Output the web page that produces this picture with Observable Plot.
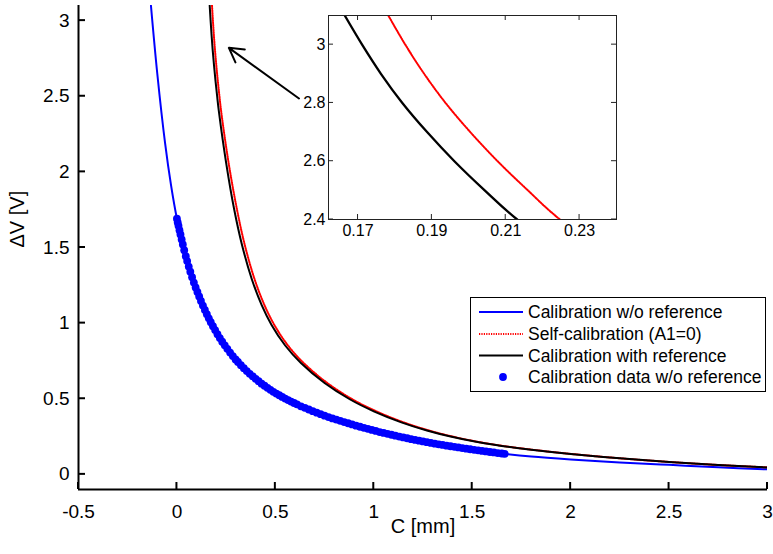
<!DOCTYPE html>
<html><head><meta charset="utf-8">
<script src="https://cdn.jsdelivr.net/npm/d3@7"></script>
<script src="https://cdn.jsdelivr.net/npm/@observablehq/plot@0.6"></script>
<style>
body{margin:0;background:#fff;}
#wrap{position:relative;width:773px;height:554px;font-family:Arial,"Liberation Sans",sans-serif;}
#inset{position:absolute;left:288px;top:10px;}
#legend{position:absolute;left:470px;top:297px;}
</style></head><body><div id="wrap"><div id="main"></div><div id="inset"></div><div id="legend"></div></div>
<script>
// ---- data ----
const blueX = [-0.132, -0.1, -0.06, -0.03, 0, 0.04, 0.087, 0.13, 0.173, 0.23, 0.29, 0.36, 0.427, 0.5, 0.63, 0.75, 0.885, 1.0, 1.14, 1.27, 1.39, 1.52, 1.66, 1.8, 2.0, 2.25, 2.5, 2.75, 3.0];
const blueY = [3.1, 2.652, 2.188, 1.912, 1.69, 1.464, 1.264, 1.122, 1.004, 0.877, 0.772, 0.676, 0.603, 0.538, 0.45, 0.388, 0.332, 0.29, 0.246, 0.211, 0.184, 0.159, 0.136, 0.118, 0.099, 0.079, 0.063, 0.047, 0.033];

const blackX = [0.1664, 0.1711, 0.1762, 0.1820, 0.1887, 0.1961, 0.2043, 0.2131, 0.25, 0.29, 0.33, 0.38, 0.43, 0.48, 0.55, 0.63, 0.75, 0.88, 1.0, 1.14, 1.27, 1.39, 1.52, 1.65, 1.8, 2.0, 2.25, 2.5, 2.75, 3.0];
const blackY = [3.1, 3.0, 2.9, 2.8, 2.7, 2.6, 2.5, 2.4, 2.06, 1.758, 1.52, 1.292, 1.121, 0.99, 0.852, 0.736, 0.604, 0.495, 0.417, 0.344, 0.29, 0.25, 0.215, 0.188, 0.163, 0.135, 0.106, 0.082, 0.062, 0.046];

const redX = [0.1782, 0.1828, 0.1879, 0.1937, 0.2004, 0.2078, 0.2160, 0.2247, 0.2625, 0.304, 0.344, 0.394, 0.444, 0.494, 0.564, 0.644, 0.764, 0.893, 1.012, 1.151, 1.28, 1.399, 1.528, 1.656, 1.805, 2.004, 2.253, 2.502, 2.751, 3.0];
const redY = [3.1, 3.0, 2.9, 2.8, 2.7, 2.6, 2.5, 2.4, 2.06, 1.758, 1.52, 1.292, 1.121, 0.99, 0.852, 0.736, 0.604, 0.495, 0.417, 0.344, 0.29, 0.25, 0.215, 0.188, 0.163, 0.135, 0.106, 0.082, 0.062, 0.0462];

const dataX = [0, 0.004, 0.008, 0.013, 0.018, 0.024, 0.03, 0.037, 0.045, 0.052, 0.06, 0.068, 0.077, 0.086, 0.095, 0.104, 0.113, 0.122, 0.132, 0.142, 0.152, 0.162, 0.172, 0.183, 0.194, 0.206, 0.218, 0.23, 0.243, 0.256, 0.27, 0.284, 0.298,
  0.31, 0.325, 0.34, 0.355, 0.37, 0.385, 0.40, 0.415, 0.43, 0.445, 0.46, 0.475, 0.49, 0.505, 0.52, 0.535, 0.55, 0.565, 0.58, 0.595, 0.61, 0.63, 0.65, 0.67, 0.69, 0.71, 0.73, 0.75, 0.77, 0.79, 0.81, 0.83, 0.85, 0.87, 0.89, 0.91, 0.93, 0.95, 0.97, 0.99,
  1.01, 1.03, 1.05, 1.07, 1.09, 1.11, 1.13, 1.15, 1.17, 1.19, 1.21, 1.23, 1.25, 1.27, 1.29, 1.31, 1.33, 1.35, 1.37, 1.39, 1.41, 1.43, 1.45, 1.47, 1.49, 1.51, 1.53, 1.55, 1.57, 1.59, 1.61, 1.63, 1.65, 1.665];
const dataY = [1.69, 1.666, 1.643, 1.614, 1.586, 1.553, 1.52, 1.482, 1.442, 1.41, 1.374, 1.34, 1.304, 1.268, 1.236, 1.206, 1.176, 1.147, 1.116, 1.087, 1.059, 1.032, 1.006, 0.98, 0.954, 0.927, 0.901, 0.877, 0.853, 0.83, 0.805, 0.782, 0.76,
  0.743, 0.722, 0.702, 0.683, 0.665, 0.648, 0.632, 0.616, 0.60, 0.586, 0.572, 0.559, 0.546, 0.534, 0.523, 0.512, 0.501, 0.491, 0.481, 0.472, 0.463, 0.45, 0.44, 0.429, 0.418, 0.408, 0.398, 0.388, 0.379, 0.37, 0.362, 0.354, 0.346, 0.338, 0.33, 0.322, 0.315, 0.308, 0.301, 0.294,
  0.287, 0.28, 0.274, 0.268, 0.262, 0.256, 0.25, 0.244, 0.239, 0.233, 0.228, 0.223, 0.218, 0.213, 0.208, 0.203, 0.199, 0.195, 0.19, 0.186, 0.182, 0.178, 0.174, 0.17, 0.166, 0.162, 0.159, 0.155, 0.152, 0.148, 0.145, 0.141, 0.138, 0.136];

const xTicks = [-0.5, 0, 0.5, 1, 1.5, 2, 2.5, 3];
const yTicks = [0, 0.5, 1, 1.5, 2, 2.5, 3];
const insetXTicks = [0.17, 0.19, 0.21, 0.23];
const insetYTicks = [2.4, 2.6, 2.8, 3];
const xLabel = "C [mm]";
const yLabel = "ΔV [V]";
const legendLabels = ["Calibration w/o reference", "Self-calibration (A1=0)", "Calibration with reference", "Calibration data w/o reference"];
const arrowAnnot = [{x1: 0.62, y1: 2.485, x2: 0.264, y2: 2.82}];

// ---- tables ----
const zip = (xs, ys) => xs.map((x, i) => ({x, y: ys[i]}));
const blue = zip(blueX, blueY), black = zip(blackX, blackY), red = zip(redX, redY), pts = zip(dataX, dataY);

const BLUE = "#0000ff", RED = "#ff0000";
const DOTTED = "1.2,1.2";
const fmt = d => String(d);
const FONT = "Arial, 'Liberation Sans', sans-serif";

const main = Plot.plot({
  width: 773, height: 554,
  marginLeft: 78, marginRight: 6, marginTop: 5, marginBottom: 65,
  style: {fontFamily: FONT, background: "white", color: "black"},
  x: {domain: [-0.5, 3]},
  y: {domain: [-0.1, 3.1]},
  marks: [
    Plot.line(blue, {x: "x", y: "y", stroke: BLUE, strokeWidth: 2, curve: "catmull-rom", clip: true}),
    Plot.line(red, {x: "x", y: "y", stroke: RED, strokeWidth: 2, strokeDasharray: DOTTED, curve: "catmull-rom", clip: true}),
    Plot.line(black, {x: "x", y: "y", stroke: "black", strokeWidth: 2, curve: "catmull-rom", clip: true}),
    Plot.dot(pts, {x: "x", y: "y", r: 3.9, fill: BLUE, stroke: "none"}),
    Plot.arrow(arrowAnnot, {x1: "x1", y1: "y1", x2: "x2", y2: "y2", stroke: "black", strokeWidth: 2, headLength: 12, headAngle: 60}),
    Plot.ruleX([-0.5], {stroke: "black", strokeWidth: 2}),
    Plot.ruleY([-0.1], {stroke: "black", strokeWidth: 2}),
    Plot.axisX(xTicks, {tickSize: 0, tickPadding: 15, fontSize: 19, tickFormat: fmt, label: null}),
    Plot.axisY(yTicks, {tickSize: 0, tickPadding: 9, fontSize: 19, tickFormat: fmt, label: null}),
    Plot.text([xLabel], {frameAnchor: "bottom", dy: 43, fontSize: 20, text: d => d}),
    Plot.text([yLabel], {frameAnchor: "left", dx: -61, rotate: -90, fontSize: 20, text: d => d})
  ]
});
document.getElementById("main").appendChild(main);

const inset = Plot.plot({
  width: 333, height: 234,
  marginLeft: 40, marginRight: 5, marginTop: 5, marginBottom: 25,
  style: {fontFamily: FONT, background: "transparent", color: "black"},
  x: {domain: [0.162, 0.24]},
  y: {domain: [2.4, 3.1]},
  marks: [
    Plot.frame({fill: "white", stroke: "none"}),
    Plot.line(red, {x: "x", y: "y", stroke: RED, strokeWidth: 2, strokeDasharray: DOTTED, curve: "catmull-rom", clip: true}),
    Plot.line(black, {x: "x", y: "y", stroke: "black", strokeWidth: 2.3, curve: "catmull-rom", clip: true}),
    Plot.frame({stroke: "#222", strokeWidth: 1}),
    Plot.axisX(insetXTicks, {tickSize: 0, tickPadding: 5, fontSize: 16, tickFormat: fmt, label: null}),
    Plot.axisY(insetYTicks, {tickSize: 0, tickPadding: 3, fontSize: 16, tickFormat: fmt, label: null})
  ]
});
document.getElementById("inset").appendChild(inset);

// inward tick marks, positioned through each plot's own scales
function inwardTicks(svg, xs, ys, len, color, width, allSides) {
  const sx = svg.scale("x"), sy = svg.scale("y");
  const [xl, xr] = sx.range, [yb, yt] = sy.range;
  const g = d3.select(svg).append("g").attr("stroke", color).attr("stroke-width", width).attr("fill", "none");
  xs.forEach(v => {
    const px = sx.apply(v);
    g.append("line").attr("x1", px).attr("x2", px).attr("y1", yb).attr("y2", yb - len);
    if (allSides) g.append("line").attr("x1", px).attr("x2", px).attr("y1", yt).attr("y2", yt + len);
  });
  ys.forEach(v => {
    const py = sy.apply(v);
    g.append("line").attr("x1", xl).attr("x2", xl + len).attr("y1", py).attr("y2", py);
    if (allSides) g.append("line").attr("x1", xr).attr("x2", xr - len).attr("y1", py).attr("y2", py);
  });
}
inwardTicks(main, xTicks, yTicks, 7, "black", 2, false);
inwardTicks(inset, insetXTicks, insetYTicks, 5, "#222", 1, true);

// legend
const lg = d3.select("#legend").append("svg").attr("width", 297).attr("height", 96).style("font-family", FONT);
lg.append("rect").attr("x", 0.5).attr("y", 0.5).attr("width", 295).attr("height", 94)
  .attr("fill", "white").attr("stroke", "black").attr("stroke-width", 1);
const rowY = [15, 37, 58.5, 80];
const styles = [{stroke: BLUE, dash: null}, {stroke: RED, dash: DOTTED}, {stroke: "black", dash: null}, {dot: true}];
legendLabels.forEach((t, i) => {
  const s = styles[i];
  if (s.dot) {
    lg.append("circle").attr("cx", 33).attr("cy", rowY[i]).attr("r", 3.9).attr("fill", BLUE);
  } else {
    lg.append("line").attr("x1", 9).attr("x2", 53).attr("y1", rowY[i]).attr("y2", rowY[i])
      .attr("stroke", s.stroke).attr("stroke-width", 2).attr("stroke-dasharray", s.dash);
  }
  lg.append("text").attr("x", 58).attr("y", rowY[i]).attr("dy", "0.35em")
    .attr("font-size", 17.5).attr("fill", "black").text(t);
});
</script>
</body></html>
